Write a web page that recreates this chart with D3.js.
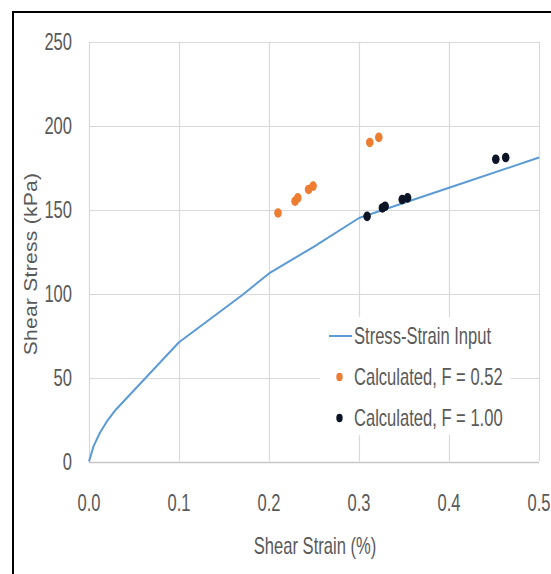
<!DOCTYPE html>
<html>
<head>
<meta charset="utf-8">
<script src="https://cdn.jsdelivr.net/npm/d3@7"></script>
<style>
  html, body { margin: 0; padding: 0; background: #fff; }
  svg { display: block; }
</style>
</head>
<body>
<div id="chart"></div>
<script>
// stress-strain input curve + the two calculated point sets

const inputStrain = [0, 0.005, 0.012, 0.02, 0.03, 0.1, 0.17, 0.2, 0.25, 0.3, 0.4, 0.5];
const inputStress = [0, 9, 17, 24, 31, 71, 99, 112, 128, 145, 163, 181];

const f052Strain = [0.210, 0.229, 0.232, 0.244, 0.249, 0.312, 0.322];
const f052Stress = [148, 155, 157, 162, 164, 190, 193];

const f100Strain = [0.309, 0.326, 0.329, 0.348, 0.354, 0.452, 0.463];
const f100Stress = [146, 151, 152, 156, 157, 180, 181];

const xTicks = [0, 0.1, 0.2, 0.3, 0.4, 0.5];
const yTicks = [0, 50, 100, 150, 200, 250];

const legendLabels = ["Stress-Strain Input", "Calculated, F = 0.52", "Calculated, F = 1.00"];

const W = 551, H = 574;
const GRID = "#d9d9d9", TXT = "#595959";
const BLUE = "#5b9bd5", ORANGE = "#ed7d31", DARK = "#0c1526";
const FONT = "'Liberation Sans', Arial, sans-serif";
const SQ = 0.72; // the source picture is squeezed sideways, text too

const svg = d3.select("#chart").append("svg")
  .attr("width", W)
  .attr("height", H);

// outer frame, right/bottom edges run off the picture
svg.append("rect")
  .attr("x", 13).attr("y", 12)
  .attr("width", 700).attr("height", 700)
  .attr("fill", "#fff")
  .attr("stroke", "#000")
  .attr("stroke-width", 2);

const x = d3.scaleLinear().domain([0, 0.5]).range([89, 539]);
const y = d3.scaleLinear().domain([0, 250]).range([461.5, 41.7]);

// narrow text helper: place, then squeeze horizontally
function ntext(parent, tx, ty, anchor, str) {
  return parent.append("text")
    .attr("transform", `translate(${tx},${ty}) scale(${SQ},1)`)
    .attr("text-anchor", anchor)
    .attr("font-family", FONT)
    .attr("font-size", 23)
    .attr("fill", TXT)
    .text(str);
}

// grid
svg.append("g").selectAll("line")
  .data(yTicks)
  .join("line")
  .attr("x1", x(0)).attr("x2", x(0.5))
  .attr("y1", d => Math.round(y(d)) + 0.5)
  .attr("y2", d => Math.round(y(d)) + 0.5)
  .attr("stroke", d => d === 0 ? "#c6c6c6" : GRID)
  .attr("stroke-width", d => d === 0 ? 1.5 : 1.2);

svg.append("g").selectAll("line")
  .data(xTicks)
  .join("line")
  .attr("x1", d => Math.round(x(d)) + 0.5)
  .attr("x2", d => Math.round(x(d)) + 0.5)
  .attr("y1", y(250)).attr("y2", y(0))
  .attr("stroke", GRID)
  .attr("stroke-width", 1.2);

// tick labels
const yLab = svg.append("g");
yTicks.forEach(d => ntext(yLab, 72, y(d) + 8.5, "end", d));

const xLab = svg.append("g");
xTicks.forEach(d => ntext(xLab, x(d), 511, "middle", d3.format(".1f")(d)));

// axis titles
ntext(svg, 315, 554, "middle", "Shear Strain (%)");

svg.append("text")
  .attr("transform", "translate(37,264) rotate(-90) scale(1,0.9)")
  .attr("text-anchor", "middle")
  .attr("font-family", FONT)
  .attr("font-size", 21)
  .attr("letter-spacing", 0.3)
  .attr("fill", TXT)
  .text("Shear Stress (kPa)");

// input curve
const line = d3.line()
  .x((d, i) => x(inputStrain[i]))
  .y(d => y(d));

svg.append("path")
  .datum(inputStress)
  .attr("d", line)
  .attr("fill", "none")
  .attr("stroke", BLUE)
  .attr("stroke-width", 2)
  .attr("stroke-linejoin", "round");

// calculated points, slightly tall ellipses like the source
function dots(xs, ys, col) {
  svg.append("g").selectAll("ellipse")
    .data(ys)
    .join("ellipse")
    .attr("cx", (d, i) => x(xs[i]))
    .attr("cy", d => y(d))
    .attr("rx", 3.8)
    .attr("ry", 4.8)
    .attr("fill", col);
}
dots(f052Strain, f052Stress, ORANGE);
dots(f100Strain, f100Stress, DARK);

// legend, white box hides the grid behind it
const leg = svg.append("g");
leg.append("rect")
  .attr("x", 320).attr("y", 317)
  .attr("width", 191).attr("height", 118)
  .attr("fill", "#fff");

const rowY = [336, 377, 418];
leg.append("line")
  .attr("x1", 329).attr("x2", 352)
  .attr("y1", rowY[0]).attr("y2", rowY[0])
  .attr("stroke", BLUE)
  .attr("stroke-width", 2);
leg.append("ellipse")
  .attr("cx", 339.5).attr("cy", rowY[1])
  .attr("rx", 3.2).attr("ry", 4.2)
  .attr("fill", ORANGE);
leg.append("ellipse")
  .attr("cx", 339.5).attr("cy", rowY[2])
  .attr("rx", 3.2).attr("ry", 4.2)
  .attr("fill", DARK);

legendLabels.forEach((d, i) => ntext(leg, 354, rowY[i] + 8, "start", d));
</script>
</body>
</html>
